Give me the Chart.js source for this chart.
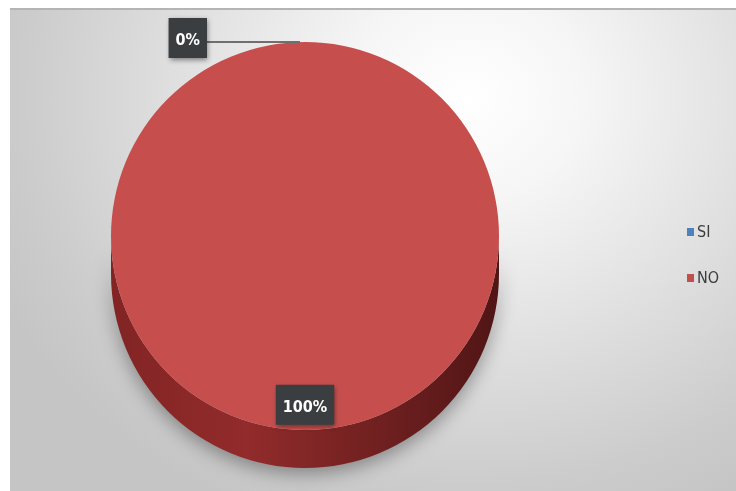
<!DOCTYPE html>
<html lang="es">
<head>
<meta charset="UTF-8">
<title>SI / NO</title>
<script src="https://cdn.jsdelivr.net/npm/chart.js@4.4.0/dist/chart.umd.min.js"></script>
<style>
    html, body {
        margin: 0;
        padding: 0;
        background: #ffffff;
        width: 736px;
        height: 491px;
        overflow: hidden;
    }
    .frame {
        position: absolute;
        left: 10px;
        top: 8px;
        width: 726px;
        height: 483px;
        border-top: 2px solid #b4b4b4;
        box-sizing: border-box;
        background: radial-gradient(ellipse 72% 95% at 63% 18%, #ffffff 0%, #f6f6f6 22%, #e0e0e0 55%, #cccccc 85%, #c5c5c5 100%);
    }
    canvas {
        position: absolute;
        left: 0;
        top: -2px;
    }
</style>
</head>
<body>
<div class="frame">
    <canvas id="pie" width="726" height="483"></canvas>
</div>
<script>
const labels = ['SI', 'NO'];
const values = [0, 100];
const colors = ['#4f81bd', '#c64f4e'];
const legendColors = ['#4f81bd', '#c0504d'];

const total = values.reduce((a, b) => a + b, 0);
const pctLabels = values.map(v => Math.round(v / total * 100) + '%');

const DEPTH = 38;
const FONT = '"Liberation Sans Narrow", "DejaVu Sans Condensed", Arial, sans-serif';

// extruded side under the front half of each slice
const sidePlugin = {
    id: 'side3d',
    beforeDatasetsDraw(chart) {
        const ctx = chart.ctx;
        chart.getDatasetMeta(0).data.forEach(arc => {
            const p = arc.getProps(['x', 'y', 'startAngle', 'endAngle', 'outerRadius'], true);
            if (p.endAngle - p.startAngle <= 0) return;
            // front half is angle 0..PI
            for (let k = -1; k <= 1; k++) {
                const s = Math.max(p.startAngle, 2 * Math.PI * k);
                const e = Math.min(p.endAngle, 2 * Math.PI * k + Math.PI);
                if (e <= s) continue;
                const r = p.outerRadius;
                ctx.save();
                const g = ctx.createLinearGradient(p.x - r, 0, p.x + r, 0);
                g.addColorStop(0, '#822424');
                g.addColorStop(0.35, '#922b2b');
                g.addColorStop(0.75, '#6a1e1e');
                g.addColorStop(1, '#501515');
                ctx.fillStyle = g;
                ctx.shadowColor = 'rgba(0,0,0,0.35)';
                ctx.shadowBlur = 18;
                ctx.shadowOffsetY = 6;
                ctx.beginPath();
                ctx.arc(p.x, p.y + DEPTH, r, s, e, false);
                ctx.arc(p.x, p.y, r, e, s, true);
                ctx.closePath();
                ctx.fill();
                ctx.restore();
            }
        });
    }
};

function labelWidth(ctx, text) {
    ctx.font = 'bold 16px ' + FONT;
    return ctx.measureText(text).width + 14;
}

function labelBox(ctx, text, cx, cy) {
    const w = labelWidth(ctx, text);
    const h = 40;
    ctx.save();
    ctx.shadowColor = 'rgba(0,0,0,0.45)';
    ctx.shadowBlur = 5;
    ctx.shadowOffsetX = 1;
    ctx.shadowOffsetY = 2;
    ctx.fillStyle = '#3b3e40';
    ctx.fillRect(cx - w / 2, cy - h / 2, w, h);
    ctx.restore();
    ctx.fillStyle = '#ffffff';
    ctx.textAlign = 'center';
    ctx.textBaseline = 'middle';
    ctx.fillText(text, cx, cy + 3);
}

// percentage labels: inside for large slices, outside with a leader line for empty ones
const labelPlugin = {
    id: 'pctLabels',
    afterDatasetsDraw(chart) {
        const ctx = chart.ctx;
        chart.getDatasetMeta(0).data.forEach((arc, i) => {
            const p = arc.getProps(['x', 'y', 'startAngle', 'endAngle', 'outerRadius'], true);
            const mid = (p.startAngle + p.endAngle) / 2;
            const r = p.outerRadius;
            if (values[i] / total > 0.05) {
                labelBox(ctx, pctLabels[i], p.x + Math.cos(mid) * r * 0.87, p.y + Math.sin(mid) * r * 0.87);
            } else {
                const ax = p.x + Math.cos(mid) * r;
                const ay = p.y + Math.sin(mid) * r;
                const bx = ax - 98;
                ctx.save();
                ctx.strokeStyle = '#6f6f6f';
                ctx.lineWidth = 2;
                ctx.beginPath();
                ctx.moveTo(bx, ay);
                ctx.lineTo(ax - 5, ay);
                ctx.stroke();
                ctx.restore();
                const w = labelWidth(ctx, pctLabels[i]);
                labelBox(ctx, pctLabels[i], bx - w / 2, ay - 4);
            }
        });
    }
};

const legendPlugin = {
    id: 'sideLegend',
    afterDraw(chart) {
        const ctx = chart.ctx;
        const x = 677;
        const y0 = 224;
        const step = 46;
        ctx.font = '16px ' + FONT;
        ctx.textBaseline = 'middle';
        ctx.textAlign = 'left';
        labels.forEach((lab, i) => {
            const y = y0 + i * step;
            ctx.fillStyle = legendColors[i];
            ctx.fillRect(x, y - 4, 7, 8);
            ctx.fillStyle = '#3c3c3c';
            ctx.fillText(lab, x + 10, y + 1);
        });
    }
};

new Chart(document.getElementById('pie'), {
    type: 'pie',
    data: {
        labels: labels,
        datasets: [{
            data: values,
            backgroundColor: colors,
            borderWidth: 0
        }]
    },
    options: {
        responsive: false,
        animation: false,
        layout: {
            padding: { left: 101, right: 237, top: 34, bottom: 61 }
        },
        plugins: {
            legend: { display: false },
            tooltip: { enabled: false }
        }
    },
    plugins: [sidePlugin, labelPlugin, legendPlugin]
});
</script>
</body>
</html>
